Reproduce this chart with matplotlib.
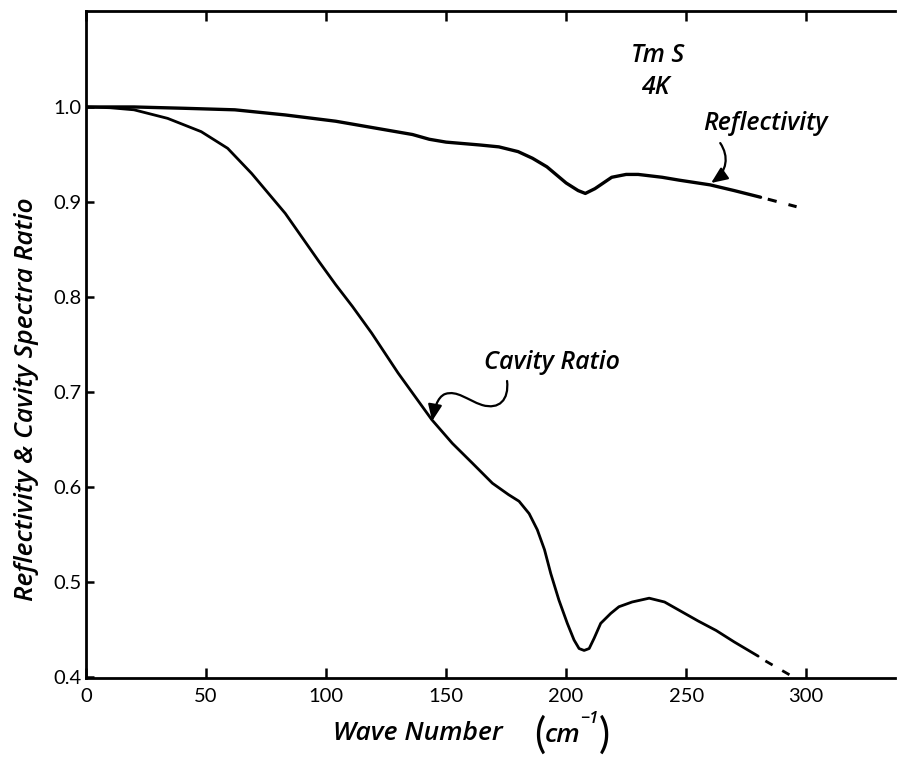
import matplotlib
matplotlib.use("Agg")
import matplotlib.pyplot as plt
from matplotlib.path import Path
from matplotlib.patches import FancyArrowPatch

# ---- data ----
refl_x = [0, 20, 41, 62, 83, 104, 120, 136, 143, 150, 164, 172, 180, 186, 192,
          200, 205, 208, 212, 219, 225, 230, 240, 247, 260, 270, 281]
refl_y = [1.0, 1.0, 0.9986, 0.997, 0.9916, 0.985, 0.978, 0.971, 0.966, 0.963, 0.960,
          0.958, 0.953, 0.946, 0.937, 0.920, 0.912, 0.909, 0.914, 0.926, 0.929,
          0.929, 0.926, 0.923, 0.918, 0.912, 0.905]
refl_ext_x = [284, 296]
refl_ext_y = [0.903, 0.895]

cav_x = [0, 10, 20, 34, 48, 59, 69, 83, 97, 104, 111, 119, 130, 144, 152.6, 161,
         169.3, 176, 180.4, 184.6, 188, 191, 193.6, 197, 200.5, 203.3, 205.4,
         207.5, 209.6, 211.7, 214.4, 218.6, 222, 227.5, 234.6, 241, 248, 255,
         262.5, 270, 280]
cav_y = [1.0, 0.9992, 0.997, 0.988, 0.974, 0.9565, 0.930, 0.888, 0.8375, 0.813,
         0.790, 0.762, 0.720, 0.671, 0.646, 0.625, 0.604, 0.592, 0.585, 0.572,
         0.555, 0.534, 0.509, 0.481, 0.4565, 0.439, 0.430, 0.428, 0.430, 0.441,
         0.4565, 0.467, 0.474, 0.479, 0.483, 0.479, 0.469, 0.459, 0.449, 0.437,
         0.422]
cav_ext_x = [283, 294]
cav_ext_y = [0.417, 0.401]

x_ticks = [0, 50, 100, 150, 200, 250, 300]
y_ticks = [0.4, 0.5, 0.6, 0.7, 0.8, 0.9, 1.0]
y_tick_labels = ["0.4", "0.5", "0.6", "0.7", "0.8", "0.9", "1.0"]

FONT = "Open Sans"
TICKFONT = "Lato"

W, H = 897, 758
fig = plt.figure(figsize=(W / 100, H / 100), dpi=100)
ax = fig.add_axes([86 / W, 1 - 678 / H, (895 - 86) / W, (678 - 11) / H])
ax.set_xlim(0, 337)
ax.set_ylim(0.399, 1.101)

ax.plot(refl_x, refl_y, color="black", lw=2.4, solid_capstyle="round",
        solid_joinstyle="round")
ax.plot(refl_ext_x, refl_ext_y, color="black", lw=2.2, dashes=(3, 4))
ax.plot(cav_x, cav_y, color="black", lw=2.0, solid_capstyle="round",
        solid_joinstyle="round")
ax.plot(cav_ext_x, cav_ext_y, color="black", lw=2.0, dashes=(3, 4))

# spines / ticks
ax.spines["right"].set_visible(False)
for s in ("left", "bottom", "top"):
    ax.spines[s].set_linewidth(2.0)
ax.set_xticks(x_ticks)
ax.set_xticklabels([str(v) for v in x_ticks])
ax.set_yticks(y_ticks)
ax.set_yticklabels(y_tick_labels)
ax.tick_params(axis="x", direction="in", length=7, width=1.8, top=True,
               labelsize=14.5, pad=7)
ax.tick_params(axis="y", direction="in", length=6, width=1.8, right=False,
               labelsize=14.5, pad=3)
for lab in ax.get_xticklabels() + ax.get_yticklabels():
    lab.set_fontfamily(TICKFONT)

tfont = dict(family=FONT, weight="semibold", style="italic", size=18)

ax.text(238, 1.054, "Tm S", ha="center", va="center", **tfont)
ax.text(237, 1.020, "4K", ha="center", va="center", **tfont)
ax.text(283, 0.983, "Reflectivity", ha="center", va="center", **tfont)
ax.text(194, 0.731, "Cavity Ratio", ha="center", va="center", **tfont)

# curved arrow for Reflectivity
p_refl = Path([(264.2, 0.962), (267.9, 0.948), (267.1, 0.932), (260.4, 0.920)],
              [Path.MOVETO, Path.CURVE4, Path.CURVE4, Path.CURVE4])
ax.add_patch(FancyArrowPatch(path=p_refl, arrowstyle="-|>,head_length=0.7,head_width=0.3",
                             mutation_scale=14, lw=1.6, color="black"))

# wiggly arrow for Cavity Ratio
p_cav = Path([(175.4, 0.7116),
              (176.25, 0.6916), (172.1, 0.6811), (165.0, 0.6863),
              (158.75, 0.6916), (154.6, 0.7021), (149.6, 0.6979),
              (146.25, 0.6947), (145.0, 0.6811), (144.2, 0.6695)],
             [Path.MOVETO] + [Path.CURVE4] * 9)
ax.add_patch(FancyArrowPatch(path=p_cav, arrowstyle="-|>,head_length=0.7,head_width=0.3",
                             mutation_scale=14, lw=1.6, color="black"))

# axis labels
fig.text(27 / W, 1 - 399 / H, "Reflectivity & Cavity Spectra Ratio", rotation=90,
         ha="center", va="center", **dict(tfont, size=19))
fig.text(418 / W, 1 - 733 / H, "Wave Number", ha="center", va="center",
         **dict(tfont, size=19))
fig.text(540 / W, 1 - 735 / H, "(", ha="center", va="center",
         family=TICKFONT, size=30, weight="normal")
fig.text(563 / W, 1 - 736 / H, "cm", ha="center", va="center", **dict(tfont, size=19))
fig.text(589 / W, 1 - 719 / H, "\u2212" + "1", ha="center", va="center",
         family=FONT, weight="semibold", style="italic", size=12)
fig.text(604 / W, 1 - 735 / H, ")", ha="center", va="center",
         family=TICKFONT, size=30, weight="normal")

fig.savefig("out.png", dpi=100)
